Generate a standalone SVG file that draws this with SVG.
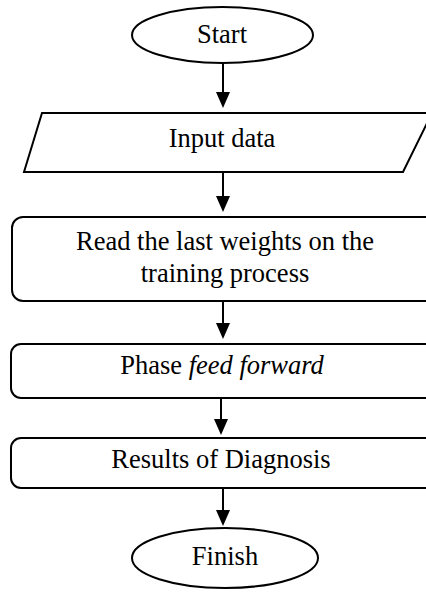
<svg xmlns="http://www.w3.org/2000/svg" width="426" height="592" viewBox="0 0 426 592">
<defs>
<style>
.shape{fill:#fff;stroke:#000;stroke-width:2}
.c{stroke:#000;stroke-width:2;fill:none}
.h{fill:#000}
</style>
</defs>
<rect width="426" height="592" fill="#fff"/>
<g id="start">
<ellipse class="shape" cx="222.5" cy="35" rx="90.5" ry="28" stroke-width="1.6"/>
<text x="222" y="43" font-family="Liberation Serif" font-size="26.5" text-anchor="middle" fill="#000">Start</text>
</g>
<g id="input">
<polygon class="shape" points="42,113 432,113 403,172 24,172"/>
<text x="222" y="147" font-family="Liberation Serif" font-size="26.5" text-anchor="middle" fill="#000">Input data</text>
</g>
<g id="read">
<rect class="shape" x="12" y="217" width="430" height="84" rx="11"/>
<text x="225" y="250" font-family="Liberation Serif" font-size="26.5" text-anchor="middle" fill="#000">Read the last weights on the</text>
<text x="225" y="282" font-family="Liberation Serif" font-size="26.5" text-anchor="middle" fill="#000">training process</text>
</g>
<g id="phase">
<rect class="shape" x="11" y="344" width="430" height="54" rx="10"/>
<text x="222" y="374" font-family="Liberation Serif" font-size="26.5" text-anchor="middle" fill="#000">Phase <tspan font-style="italic">feed forward</tspan></text>
</g>
<g id="results">
<rect class="shape" x="11" y="438" width="430" height="50" rx="10"/>
<text x="221" y="468" font-family="Liberation Serif" font-size="26.5" text-anchor="middle" fill="#000">Results of Diagnosis</text>
</g>
<g id="finish">
<ellipse class="shape" cx="225" cy="558" rx="93" ry="30" stroke-width="1.6"/>
<text x="225" y="565" font-family="Liberation Serif" font-size="26.5" text-anchor="middle" fill="#000">Finish</text>
</g>
<g id="connectors">
<line class="c" x1="223" y1="63" x2="223" y2="94"/>
<polygon class="h" points="216,92 230,92 223,108"/>
<line class="c" x1="223" y1="172" x2="223" y2="198"/>
<polygon class="h" points="216,196 230,196 223,212"/>
<line class="c" x1="223" y1="301" x2="223" y2="325"/>
<polygon class="h" points="216,323 230,323 223,339"/>
<line class="c" x1="221" y1="398" x2="221" y2="421"/>
<polygon class="h" points="214,419 228,419 221,435"/>
<line class="c" x1="223" y1="488" x2="223" y2="512"/>
<polygon class="h" points="216,510 230,510 223,526"/>
</g>
</svg>
